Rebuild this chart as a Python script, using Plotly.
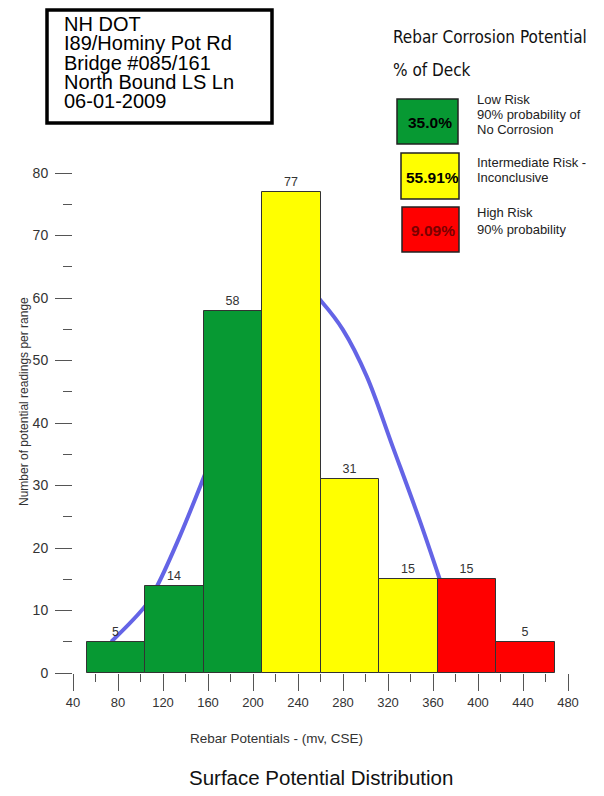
import plotly.graph_objects as go

# Histogram bins (mv, CSE) and counts
bin_centers = [78, 130, 182, 234, 286, 338, 390, 442]
counts = [5, 14, 58, 77, 31, 15, 15, 5]
bar_colors = ['#079933', '#079933', '#079933', '#ffff00', '#ffff00', '#ffff00', '#ff0000', '#ff0000']

# Fitted distribution curve (mostly hidden behind the bars)
curve_x = [74, 105, 115, 135, 156, 190, 220, 241, 262, 280, 301, 324, 348, 366]
curve_y = [5, 10.9, 14, 21.9, 31.2, 47, 59, 63, 59.2, 54.9, 47.5, 36.3, 24.5, 15]

header_lines = ['NH DOT', 'I89/Hominy Pot Rd', 'Bridge #085/161', 'North Bound LS Ln', '06-01-2009']

risk_pct = ['35.0%', '55.91%', '9.09%']
risk_text = [['Low Risk', '90% probability of', 'No Corrosion'],
             ['Intermediate Risk -', 'Inconclusive'],
             ['High Risk', '90% probability']]

FONT = 'Liberation Sans, Arial, sans-serif'
NARROW = 'DejaVu Sans Condensed, Liberation Sans Narrow, Arial Narrow, sans-serif'

fig = go.Figure()

# curve first, bars above it
fig.add_trace(go.Scatter(
    x=curve_x, y=curve_y, mode='lines',
    line=dict(color='#6464e6', width=4, shape='spline'),
    zorder=0, hoverinfo='skip'
))

fig.add_trace(go.Bar(
    x=bin_centers, y=counts, width=52,
    marker=dict(color=bar_colors, line=dict(color='#333333', width=1)),
    text=[str(c) for c in counts], textposition='outside',
    textfont=dict(size=12.5, color='#333333', family=FONT),
    cliponaxis=False, zorder=1
))

# page body adds an 8px offset, so margins are shifted by 8
fig.update_layout(
    width=604, height=796,
    margin=dict(l=65, r=44, t=165, b=131),
    paper_bgcolor='white', plot_bgcolor='white',
    showlegend=False,
    font=dict(family=FONT, color='#333333'),
    bargap=0,
)

fig.update_xaxes(
    range=[40, 480], tickvals=list(range(40, 481, 40)),
    showgrid=False, zeroline=False,
    showline=True, linecolor='#555555', linewidth=1,
    ticks='outside', ticklen=17, tickcolor='#555555',
    tickfont=dict(size=13, color='#333333'),
    minor=dict(tickvals=list(range(60, 480, 40)), ticks='outside', ticklen=8, tickcolor='#555555'),
)
fig.update_yaxes(
    range=[0, 80], tickvals=list(range(0, 81, 10)),
    showgrid=False, zeroline=False,
    showline=True, linecolor='#555555', linewidth=1,
    ticks='outside', ticklen=17, tickcolor='#555555',
    tickfont=dict(size=14, color='#333333'), ticklabelstandoff=4,
    minor=dict(tickvals=list(range(5, 80, 10)), ticks='outside', ticklen=9, tickcolor='#555555'),
)


def px(x):
    return (x - 73) / 495


def py(y):
    return (673 - y) / 500


def note(x, y, text, size, color='#222222', family=FONT, xanchor='left', **kw):
    fig.add_annotation(x=px(x), y=py(y), xref='paper', yref='paper', text=text,
                       showarrow=False, xanchor=xanchor, yanchor='middle',
                       font=dict(size=size, color=color, family=family), **kw)


# header box
fig.add_shape(type='rect', xref='paper', yref='paper',
              x0=px(47), x1=px(272), y0=py(123), y1=py(10),
              line=dict(color='black', width=3.5), fillcolor='white')
for i, line in enumerate(header_lines):
    note(62, 24 + i * 19.3, line, 20, color='black')

# legend block
note(391, 37, 'Rebar Corrosion Potential', 17, color='#111111', family=NARROW)
note(391, 70, '% of Deck', 17, color='#111111', family=NARROW)

boxes = [(397, 458, 99, 144, '#079933', 'black'),
         (401, 459, 153, 199, '#ffff00', 'black'),
         (402, 459, 207, 252, '#ff0000', '#7a0000')]
text_rows = [[99, 115, 130], [162, 177], [213, 229]]
for (bx0, bx1, by0, by1, col, tcol), pct, lines, rows in zip(boxes, risk_pct, risk_text, text_rows):
    fig.add_shape(type='rect', xref='paper', yref='paper',
                  x0=px(bx0), x1=px(bx1), y0=py(by1), y1=py(by0),
                  line=dict(color='#222222', width=1.5), fillcolor=col)
    note((bx0 + bx1) / 2 + 2, (by0 + by1) / 2 + 1, '<b>' + pct + '</b>', 15.5,
         color=tcol, xanchor='center')
    for line, ry in zip(lines, rows):
        note(476, ry, line, 13, height=15, borderpad=0)

# axis titles
note(276, 738, 'Rebar Potentials - (mv, CSE)', 13.5, color='#333333', xanchor='center')
note(321, 777, 'Surface Potential Distribution', 20.5, color='#111111', xanchor='center')
note(24, 402, 'Number of potential readings per range', 12, color='#333333',
     xanchor='center', textangle=-90)

fig.write_html("out.html")
